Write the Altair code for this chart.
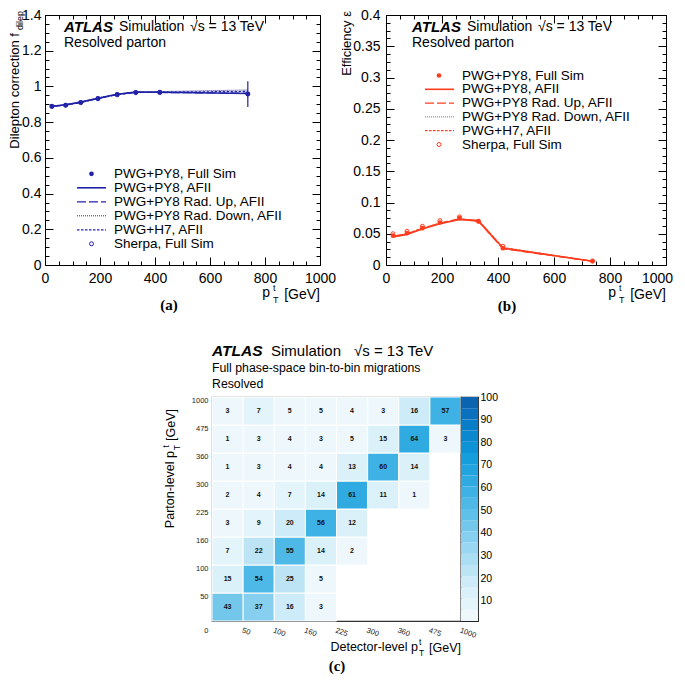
import altair as alt
import numpy as np
import pandas as pd

FONT = "Liberation Sans"
SERIF = "Liberation Serif"

# ---------------- data ----------------
pt_centers = [25, 75, 130, 192.5, 262.5, 330, 417.5, 737.5]

# (a) dilepton correction
fdil_fullsim = [0.890, 0.896, 0.911, 0.933, 0.955, 0.967, 0.968, 0.957]
fdil_fullsim_err = [0.004, 0.004, 0.004, 0.004, 0.005, 0.006, 0.008, 0.072]
fdil_afii = [0.889, 0.897, 0.912, 0.934, 0.956, 0.968, 0.967, 0.960]
fdil_radup = [0.888, 0.895, 0.910, 0.932, 0.954, 0.967, 0.966, 0.962]
fdil_raddown = [0.890, 0.898, 0.913, 0.935, 0.957, 0.969, 0.971, 0.980]
fdil_h7 = [0.889, 0.896, 0.911, 0.933, 0.955, 0.966, 0.968, 0.972]
fdil_sherpa = [0.887, 0.894, 0.909, 0.931, 0.953, 0.965, 0.966, 0.958]

# (b) efficiency
eff_fullsim = [0.047, 0.051, 0.059, 0.068, 0.075, 0.070, 0.027, 0.006]
eff_fullsim_err = [0.001, 0.001, 0.001, 0.001, 0.001, 0.001, 0.001, 0.001]
eff_afii = [0.045, 0.049, 0.058, 0.066, 0.073, 0.071, 0.027, 0.006]
eff_radup = [0.046, 0.050, 0.058, 0.067, 0.074, 0.070, 0.026, 0.006]
eff_raddown = [0.045, 0.049, 0.057, 0.066, 0.073, 0.069, 0.027, 0.006]
eff_h7 = [0.046, 0.050, 0.059, 0.067, 0.073, 0.071, 0.028, 0.006]
eff_sherpa = [0.050, 0.054, 0.062, 0.071, 0.077, 0.070, 0.030, 0.0065]

legend_labels = ["PWG+PY8, Full Sim", "PWG+PY8, AFII", "PWG+PY8 Rad. Up, AFII",
                 "PWG+PY8 Rad. Down, AFII", "PWG+H7, AFII", "Sherpa, Full Sim"]

# (c) migration matrix, rows = parton-level bins (low -> high), cols = detector-level bins
migration_bin_labels = ["0", "50", "100", "160", "225", "300", "360", "475", "1000"]
migration_pct = [
    [43, 37, 16, 3, None, None, None, None],
    [15, 54, 25, 5, None, None, None, None],
    [7, 22, 55, 14, 2, None, None, None],
    [3, 9, 20, 56, 12, None, None, None],
    [2, 4, 7, 14, 61, 11, 1, None],
    [1, 3, 4, 4, 13, 60, 14, None],
    [1, 3, 4, 3, 5, 15, 64, 3],
    [3, 7, 5, 5, 4, 3, 16, 57],
]

# ---------------- styling helpers ----------------
ONE = pd.DataFrame({"z": [0]})


def txt(s, x, y, size=14, align="left", baseline="middle", weight="normal",
        style="normal", angle=0, font=FONT, color="black"):
    kw = dict(text=s, align=align, baseline=baseline, fontSize=size, font=font,
              fontWeight=weight, fontStyle=style, color=color)
    if angle:
        kw["angle"] = angle
    return alt.Chart(ONE).mark_text(**kw).encode(x=alt.value(x), y=alt.value(y))


def frame_axis(orient, values, major, T=8, t=4, labels=True, fmt=None, size=14, pad=5,
               last_shift=0):
    kw = dict(orient=orient, values=values, offset=-T, tickSize=T, tickColor="black",
              tickWidth=1,
              tickDash={"condition": {"test": f"!({major})", "value": [0, T - t, 40]},
                        "value": [40, 0]},
              domain=False, grid=False, title=None, labelOverlap=False, labelFlush=False)
    if labels:
        kw.update(labelExpr=f"({major}) ? datum.label : ''", labelFont=FONT,
                  labelFontSize=size, labelColor="black", labelPadding=pad)
        if fmt:
            kw["format"] = fmt
        if last_shift:
            kw["labelOffset"] = {"condition": {"test": "datum.value >= 1000",
                                               "value": last_shift}, "value": 0}
    else:
        kw["labels"] = False
    return alt.Axis(**kw)


LINE_STYLES = [("AFII", None, 1.6), ("RadUp", [9, 3], 1.2),
               ("RadDown", [1, 1], 1.0), ("H7", [2.5, 1.5], 1.2)]


def make_panel(series, fullsim, fullsim_err, sherpa, color, ydom, ystep, ymajor, W, H, c):
    xs = alt.Scale(domain=[0, 1000], nice=False, zero=False)
    ys = alt.Scale(domain=ydom, nice=False, zero=False)
    xvals = [float(v) for v in range(0, 1001, 50)]
    n = int(round((ydom[1] - ydom[0]) / ystep))
    yvals = [round(ydom[0] + i * ystep, 6) for i in range(n + 1)]
    k = int(round(1 / ymajor))
    xmaj = "abs(datum.value % 200) < 1e-6"
    ymaj = f"abs(datum.value*{k} - round(datum.value*{k})) < 1e-6"

    layers = []
    for i, (name, dash, sw) in enumerate(LINE_STYLES):
        df = pd.DataFrame({"pt": pt_centers, "val": series[name]})
        mk = dict(color=color, strokeWidth=sw)
        if dash:
            mk["strokeDash"] = dash
        first = i == 0
        layers.append(alt.Chart(df).mark_line(**mk).encode(
            x=alt.X("pt:Q", scale=xs,
                    axis=frame_axis("bottom", xvals, xmaj, fmt="d", pad=6,
                                    last_shift=c["last_shift"]) if first else None),
            y=alt.Y("val:Q", scale=ys,
                    axis=frame_axis("left", yvals, ymaj, fmt="~g", pad=c["ypad"]) if first else None),
        ))
    fs = pd.DataFrame({"pt": pt_centers, "val": fullsim,
                       "lo": [v - e for v, e in zip(fullsim, fullsim_err)],
                       "hi": [v + e for v, e in zip(fullsim, fullsim_err)]})
    layers.append(alt.Chart(fs).mark_rule(color=color, strokeWidth=1.2).encode(
        x=alt.X("pt:Q", scale=xs, axis=None), y=alt.Y("lo:Q", scale=ys, axis=None), y2="hi:Q"))
    layers.append(alt.Chart(fs).mark_point(filled=True, color=color, size=22, opacity=1).encode(
        x=alt.X("pt:Q", scale=xs, axis=None), y=alt.Y("val:Q", scale=ys, axis=None)))
    sh = pd.DataFrame({"pt": pt_centers, "val": sherpa})
    layers.append(alt.Chart(sh).mark_point(filled=False, color=color, size=16, strokeWidth=1,
                                           opacity=1).encode(
        x=alt.X("pt:Q", scale=xs, axis=None), y=alt.Y("val:Q", scale=ys, axis=None)))
    # ticks on top and right sides of the frame
    layers.append(alt.Chart(fs).mark_point(opacity=0).encode(
        x=alt.X("pt:Q", scale=xs, axis=frame_axis("top", xvals, xmaj, labels=False)),
        y=alt.Y("val:Q", scale=ys, axis=frame_axis("right", yvals, ymaj, labels=False))))

    # legend
    lx0, lx1, lxm, ltx = c["leg_x"]
    for i, lab in enumerate(legend_labels):
        yy = c["leg_y0"] + i * c["leg_dy"]
        if i == 0:
            layers.append(alt.Chart(ONE).mark_point(filled=True, color=color, size=22, opacity=1)
                          .encode(x=alt.value(lxm), y=alt.value(yy)))
        elif i == 5:
            layers.append(alt.Chart(ONE).mark_point(filled=False, color=color, size=16,
                                                    strokeWidth=1, opacity=1)
                          .encode(x=alt.value(lxm), y=alt.value(yy)))
        else:
            name, dash, sw = LINE_STYLES[i - 1]
            mk = dict(color=color, strokeWidth=sw)
            if dash:
                mk["strokeDash"] = dash
            layers.append(alt.Chart(ONE).mark_rule(**mk).encode(
                x=alt.value(lx0), x2=alt.value(lx1), y=alt.value(yy)))
        layers.append(txt(lab, ltx, yy, size=13.5))

    # ATLAS label
    ax, ay = c["atlas"]
    layers.append(txt("ATLAS", ax, ay, size=15, weight="bold", style="italic"))
    layers.append(txt("Simulation", ax + 55, ay, size=14))
    layers.append(txt("\u221as = 13 TeV", ax + 126, ay, size=14))
    layers.append(txt("Resolved parton", ax, ay + 15.5, size=14))

    # x title  p_T^t [GeV]
    layers.append(txt("[GeV]", W, H + 29.5, size=14, align="right"))
    layers.append(txt("p", W - 50, H + 28, size=14, align="right"))
    layers.append(txt("t", W - 47, H + 23, size=9))
    layers.append(txt("T", W - 47, H + 35, size=9))

    # y title
    for (s, x, y, size) in c["ytitle"]:
        layers.append(txt(s, x, y, size=size, align="right", angle=270))

    # panel label
    plx, ply, pls = c["plabel"]
    layers.append(txt(pls, plx, ply, size=15, weight="bold", font=SERIF, align="center"))

    return alt.layer(*layers).resolve_axis(x="independent", y="independent").properties(
        width=W, height=H, view=alt.ViewBackground(stroke="black", strokeWidth=1))


H_TOP = 250
WA, WB = 275, 280
TOP0 = 14.5  # page y of the plot top (approx.)
A_LEFT = 46  # page x of panel (a) plot left (approx.)
B_LEFT = A_LEFT + WA + 66

panel_a = make_panel(
    {"AFII": fdil_afii, "RadUp": fdil_radup, "RadDown": fdil_raddown, "H7": fdil_h7},
    fdil_fullsim, fdil_fullsim_err, fdil_sherpa, "#2222a8", [0, 1.4], 0.05, 0.2, WA, H_TOP,
    dict(ypad=4, last_shift=0,
         leg_x=(78 - A_LEFT, 107 - A_LEFT, 92.5 - A_LEFT, 115 - A_LEFT),
         leg_y0=173.3 - TOP0, leg_dy=14,
         atlas=(65 - A_LEFT, 26.5 - TOP0),
         ytitle=[("Dilepton correction f", -30.5, 18, 13), ("dilep", -25.5, -4, 9)],
         plabel=(170 - A_LEFT, H_TOP + 40, "(a)")))

panel_b = make_panel(
    {"AFII": eff_afii, "RadUp": eff_radup, "RadDown": eff_raddown, "H7": eff_h7},
    eff_fullsim, eff_fullsim_err, eff_sherpa, "#ff3c1e", [0, 0.4], 0.0125, 0.05, WB, H_TOP,
    dict(ypad=6, last_shift=-9,
         leg_x=(426 - B_LEFT, 455 - B_LEFT, 440 - B_LEFT, 463 - B_LEFT),
         leg_y0=75 - TOP0, leg_dy=13.8,
         atlas=(413 - B_LEFT, 26.5 - TOP0),
         ytitle=[("Efficiency \u03b5", 348 - B_LEFT, -4, 13)],
         plabel=(508 - B_LEFT, H_TOP + 41, "(b)")))

# ---------------- migration matrix ----------------
ANCHORS = [(0.0, "#f3fafd"), (0.15, "#d6eff9"), (0.36, "#8dd1ef"), (0.45, "#68c3ea"),
           (0.55, "#45b5e5"), (0.65, "#28a8e0"), (0.75, "#0f9ad9"), (0.9, "#0878c4"),
           (1.0, "#0d5ca8")]


def lerp_hex(c1, c2, f):
    a = [int(c1[i:i + 2], 16) for i in (1, 3, 5)]
    b = [int(c2[i:i + 2], 16) for i in (1, 3, 5)]
    return "#" + "".join(f"{round(x + (y - x) * f):02x}" for x, y in zip(a, b))


def palette_at(t):
    for (t0, c0), (t1, c1) in zip(ANCHORS[:-1], ANCHORS[1:]):
        if t <= t1:
            return lerp_hex(c0, c1, (t - t0) / (t1 - t0))
    return ANCHORS[-1][1]


N_STEPS = 20
PALETTE = [palette_at((i + 0.5) / N_STEPS) for i in range(N_STEPS)]
cscale = alt.Scale(type="quantize", domain=[1, 100], range=PALETTE, nice=False)

rows = []
for r, row in enumerate(migration_pct):
    for cidx, v in enumerate(row):
        if v is not None:
            rows.append({"c": cidx, "r": r, "v": v})
cells = pd.DataFrame(rows)

HW, HH = 249, 224
hx = alt.Scale(domain=[0, 8], nice=False, zero=False)
hy = alt.Scale(domain=[0, 8], nice=False, zero=False)
edge_expr = "[" + ",".join(f"'{s}'" for s in migration_bin_labels) + "][datum.value]"
hx_axis = alt.Axis(values=list(range(1, 9)), labelExpr=edge_expr, labelAngle=20,
                   labelAlign="left", labelBaseline="top", labelFontSize=7.5, labelFont=FONT,
                   labelColor="#222", labelPadding=5, ticks=False, domain=False, grid=False,
                   title=None, labelOverlap=False, labelFlush=False)
hy_axis = alt.Axis(values=list(range(0, 9)), labelExpr=edge_expr, labelFontSize=7.5,
                   labelFont=FONT, labelColor="#222", labelPadding=4,
                   labelOffset={"condition": {"test": "datum.value === 0", "value": 9}, "value": 3},
                   ticks=False, domain=False, grid=False, title=None, labelOverlap=False,
                   labelFlush=False)

hl = []
hl.append(alt.Chart(cells).mark_rect(stroke="white", strokeWidth=1).transform_calculate(
    c1="datum.c + 1", r1="datum.r + 1").encode(
    x=alt.X("c:Q", scale=hx, axis=hx_axis), x2="c1:Q",
    y=alt.Y("r:Q", scale=hy, axis=hy_axis), y2="r1:Q",
    color=alt.Color("v:Q", scale=cscale, legend=None)))
hl.append(alt.Chart(cells).mark_text(fontSize=7, fontWeight="bold", font=FONT, color="#111")
          .transform_calculate(cx="datum.c + 0.5", ry="datum.r + 0.5").encode(
    x=alt.X("cx:Q", scale=hx, axis=hx_axis), y=alt.Y("ry:Q", scale=hy, axis=hy_axis),
    text="v:Q"))
hl.append(txt("ATLAS", 0, -46, size=15.5, weight="bold", style="italic"))
hl.append(txt("Simulation", 59, -46, size=15))
hl.append(txt("\u221as = 13 TeV", 142, -46, size=15))
hl.append(txt("Full phase-space bin-to-bin migrations", 0, -29, size=12.3))
hl.append(txt("Resolved", 0, -13, size=12.3))
# x title
hl.append(txt("[GeV]", HW, HH + 27, size=12.5, align="right"))
hl.append(txt("Detector-level p", HW - 43, HH + 26, size=12.5, align="right"))
hl.append(txt("t", HW - 42, HH + 21, size=8.5))
hl.append(txt("T", HW - 42, HH + 32, size=8.5))
# y title (rotated)
hl.append(txt("[GeV]", -41, 12, size=12.5, align="right", angle=270))
hl.append(txt("t", -46, 48, size=8.5, align="right", angle=270))
hl.append(txt("T", -35, 48, size=8.5, align="right", angle=270))
hl.append(txt("Parton-level p", -42, 54, size=12.5, align="right", angle=270))
hl.append(txt("(c)", 125, HH + 45, size=15, weight="bold", font=SERIF, align="center"))

heat = alt.layer(*hl).properties(width=HW, height=HH,
                                 view=alt.ViewBackground(stroke="#333", strokeWidth=1.2))

steps = np.linspace(1, 100, N_STEPS + 1)
cb = pd.DataFrame({"lo": steps[:-1], "hi": steps[1:], "mid": (steps[:-1] + steps[1:]) / 2,
                   "k": ["a"] * N_STEPS})
cb_axis = alt.Axis(orient="right", values=list(range(10, 101, 10)), offset=-7, tickSize=7,
                   tickColor="#222", domain=False, grid=False, title=None, labelFont=FONT,
                   labelFontSize=10.5, labelPadding=2, labelOverlap=False, labelFlush=False,
                   labelColor="black")
cbar = alt.Chart(cb).mark_rect().encode(
    x=alt.X("k:N", axis=None, scale=alt.Scale(paddingInner=0, paddingOuter=0)),
    y=alt.Y("lo:Q", scale=alt.Scale(domain=[1, 100], nice=False, zero=False), axis=cb_axis),
    y2="hi:Q",
    color=alt.Color("mid:Q", scale=cscale, legend=None),
).properties(width=17, height=HH, view=alt.ViewBackground(stroke="#222", strokeWidth=1.2))

spacer = alt.Chart(ONE).mark_point(opacity=0).properties(
    width=213 - A_LEFT, height=HH, view=alt.ViewBackground(strokeOpacity=0))

top = alt.hconcat(panel_a, panel_b, spacing=66, bounds="flush")
bottom = alt.hconcat(spacer, heat, cbar, spacing=0, bounds="flush")
chart = alt.vconcat(top, bottom, spacing=28).properties(
    padding={"left": 0, "top": -1, "right": 0, "bottom": 0})

chart.save("out.html", embed_options={"renderer": "svg", "actions": False})
